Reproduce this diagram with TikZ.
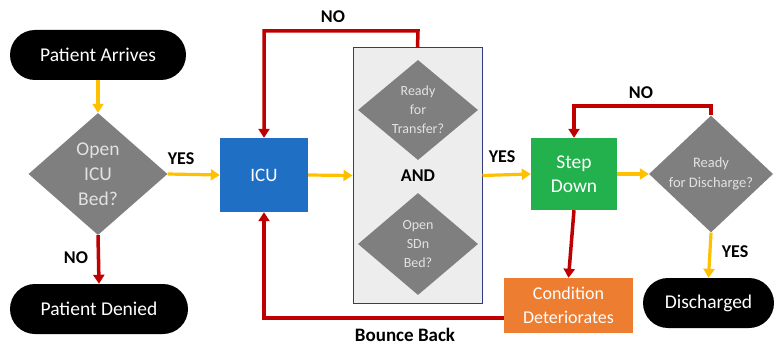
\documentclass[tikz,border=0pt]{standalone}
\usepackage{fontspec}
\setmainfont{Carlito}
\usetikzlibrary{shapes.geometric,shapes.misc,arrows.meta}
\definecolor{arrY}{HTML}{FFC000}
\definecolor{arrR}{HTML}{C00000}
\definecolor{dgray}{HTML}{7F7F7F}
\definecolor{icublue}{HTML}{1F6FC5}
\definecolor{sdgreen}{HTML}{22B14C}
\definecolor{condorange}{HTML}{ED7D31}
\definecolor{boxfill}{HTML}{EDEDED}
\definecolor{boxline}{HTML}{2F3B7A}
\definecolor{dtext}{HTML}{E2E2E2}
\tikzset{
  pill/.style={rounded rectangle, fill=black, text=white, font=\fontsize{19.5}{22}\selectfont, minimum width=#1, minimum height=50pt, inner sep=0pt},
  dia/.style={diamond, fill=dgray, text=dtext, align=center, inner sep=0pt},
  sqbox/.style={rectangle, text=white, align=center, inner sep=0pt},
  lbl/.style={font=\bfseries\fontsize{18}{20}\selectfont, text=black},
  yarr/.style={draw=arrY, line width=3.2pt, -{Triangle[length=9pt,width=11pt]}},
  rarr/.style={draw=arrR, line width=3.5pt, -{Triangle[length=9pt,width=11pt]}},
}
\begin{document}
\begin{tikzpicture}[x=1pt,y=-1pt]
\useasboundingbox (0,0) rectangle (774,345);
% container
\node[draw=boxline, line width=1pt, fill=boxfill, minimum width=129pt, minimum height=255pt, inner sep=0pt] (grp) at (417.5,175.5) {};
% nodes
\node[pill=176pt] (arr) at (98,55) {Patient Arrives};
\node[pill=178pt] (den) at (99,309) {Patient Denied};
\node[dia, font=\fontsize{19.5}{25}\selectfont, minimum width=139pt, minimum height=122pt] (icubed) at (98,174) {Open\\ICU\\Bed?};
\node[sqbox, fill=icublue, font=\fontsize{19}{22}\selectfont, minimum width=88pt, minimum height=74pt] (icu) at (264,175) {ICU};
\node[dia, font=\fontsize{14}{19}\selectfont, minimum width=120pt, minimum height=100pt] (rft) at (418,110) {Ready\\for\\Transfer?};
\node[lbl] (and) at (418,176) {AND};
\node[dia, font=\fontsize{14}{19}\selectfont, minimum width=120pt, minimum height=102pt] (sdn) at (418,244) {Open\\SDn\\Bed?};
\node[sqbox, fill=sdgreen, font=\fontsize{19.5}{24.5}\selectfont, minimum width=86pt, minimum height=72pt] (sd) at (574,174) {Step\\Down};
\node[dia, font=\fontsize{14.5}{20}\selectfont, minimum width=124pt, minimum height=103pt] (rfd) at (711,174) {Ready\\for Discharge?};
\node[sqbox, fill=condorange, font=\fontsize{18}{24}\selectfont, minimum width=129pt, minimum height=55pt] (cond) at (568.5,305.5) {Condition\\Deteriorates};
\node[pill=131pt] (dis) at (708.5,303) {Discharged};
% waypoints
\coordinate (n1a) at (418,31);
\coordinate (n1b) at (264,31);
\coordinate (bb) at (264,318);
\coordinate (n2a) at (711,106);
\coordinate (n2b) at (574,106);
% connectors
\draw[yarr] (arr.south) -- (icubed.north);
\draw[yarr] (icubed.east) -- (icu.west);
\draw[rarr] (icubed.south) -- (den.north);
\draw[yarr] (icu.east) -- (grp.west);
\draw[yarr] (grp.east) -- (sd.west);
\draw[yarr] (sd.east) -- (rfd.west);
\draw[yarr] (rfd.south) -- (dis.north);
\draw[rarr] (sd.south) -- (cond.north);
\draw[rarr] (grp.north) -- (n1a) -- (n1b) -- (icu.north);
\draw[rarr] (cond.west |- bb) -- (bb) -- (icu.south);
\draw[rarr] (rfd.north) -- (n2a) -- (n2b) -- (sd.north);
% labels
\node[lbl] (l1) at (181,159) {YES};
\node[lbl] (l2) at (76,258) {NO};
\node[lbl] (l3) at (333,17) {NO};
\node[lbl] (l4) at (502,157) {YES};
\node[lbl] (l5) at (641,93) {NO};
\node[lbl] (l6) at (735,252) {YES};
\node[lbl, font=\bfseries\fontsize{19}{20}\selectfont] (l7) at (405,335) {Bounce Back};
\end{tikzpicture}
\end{document}
